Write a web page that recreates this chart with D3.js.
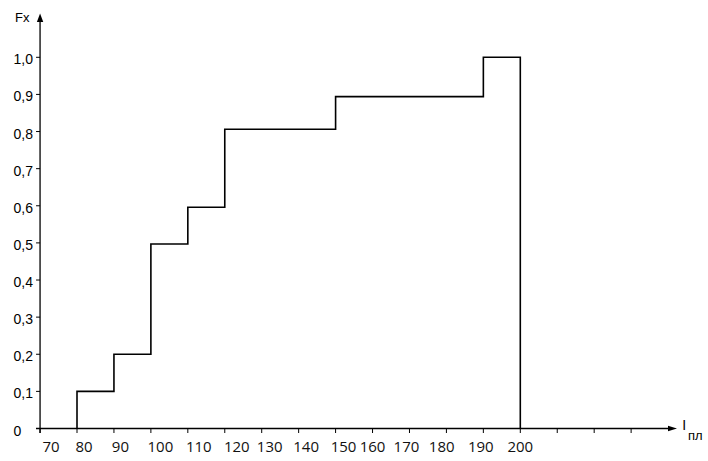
<!DOCTYPE html>
<html>
<head>
<meta charset="utf-8">
<script src="https://cdn.jsdelivr.net/npm/d3@7"></script>
<style>
  html, body { margin: 0; padding: 0; background: #fff; }
  svg { display: block; }
</style>
</head>
<body>
<svg id="chart" width="708" height="461"></svg>
<script>
// ---- data ----
const xBreaks = [80, 90, 100, 110, 120, 150, 190, 200];      // interval bounds
const fValues = [0.1, 0.2, 0.497, 0.596, 0.806, 0.894, 1.0];  // F(x) on each interval
const xTickValues = [70, 80, 90, 100, 110, 120, 130, 140, 150, 160, 170, 180, 190, 200, 210, 220, 230];
const xTickLabels = ["70", "80", "90", "100", "110", "120", "130", "140", "150", "160", "170", "180", "190", "200"];
const yTickValues = [0, 0.1, 0.2, 0.3, 0.4, 0.5, 0.6, 0.7, 0.8, 0.9, 1.0];
const yTickLabels = ["0", "0,1", "0,2", "0,3", "0,4", "0,5", "0,6", "0,7", "0,8", "0,9", "1,0"];
const yAxisTitle = "Fx";
const xAxisTitle = "I";
const xAxisSub = "пл";

// label nudges (layout only)
const xLabelNudge = [11, 7, 6.5, 9.5, 11, 12, 8, 7.5, 8, 0, -3, -4.7, -2.6, 0];

const svg = d3.select("#chart");
const x = d3.scaleLinear().domain([70, 200]).range([40.06, 520.3]);
const y = d3.scaleLinear().domain([0, 1]).range([428.5, 57.3]);

const black = "#000";

// y axis line
svg.append("line").attr("x1", x(70)).attr("x2", x(70))
  .attr("y1", 20).attr("y2", 433).attr("stroke", black).attr("stroke-width", 1.3);
svg.append("path")
  .attr("d", `M${x(70)},13.5 L${x(70) - 3.2},22 L${x(70) + 3.2},22 Z`).attr("fill", black);

// x axis line
svg.append("line").attr("x1", 36).attr("x2", 670)
  .attr("y1", y(0)).attr("y2", y(0)).attr("stroke", black).attr("stroke-width", 1.3);
svg.append("path")
  .attr("d", `M677,${y(0)} L668,${y(0) - 2.8} L668,${y(0) + 2.8} Z`).attr("fill", black);

// y ticks
svg.append("g").selectAll("line").data(yTickValues).join("line")
  .attr("x1", x(70) - 4).attr("x2", x(70))
  .attr("y1", d => y(d)).attr("y2", d => y(d))
  .attr("stroke", black).attr("stroke-width", 1);
svg.append("g").selectAll("text").data(yTickValues).join("text")
  .attr("x", 13.5).attr("y", d => y(d) + 7)
  .attr("font-family", "Liberation Sans, Arial, sans-serif").attr("font-size", 14)
  .attr("fill", black)
  .text((d, i) => yTickLabels[i]);

// x ticks
svg.append("g").selectAll("line").data(xTickValues).join("line")
  .attr("x1", d => x(d)).attr("x2", d => x(d))
  .attr("y1", y(0)).attr("y2", y(0) + 4.5)
  .attr("stroke", black).attr("stroke-width", 1);
svg.append("g").selectAll("text").data(xTickLabels).join("text")
  .attr("x", (d, i) => x(+d) + xLabelNudge[i]).attr("y", 452)
  .attr("text-anchor", "middle")
  .attr("font-family", "Open Sans, sans-serif").attr("font-size", 15)
  .attr("fill", "#111")
  .text(d => d);

// axis titles
svg.append("text").attr("x", 15).attr("y", 21.7)
  .attr("font-family", "Liberation Sans, Arial, sans-serif").attr("font-size", 13)
  .attr("fill", black).text(yAxisTitle);
svg.append("text").attr("x", 682.3).attr("y", 430)
  .attr("font-family", "Liberation Sans, Arial, sans-serif").attr("font-size", 14)
  .attr("fill", black).text(xAxisTitle);
svg.append("text").attr("x", 688).attr("y", 440)
  .attr("font-family", "Liberation Sans, Arial, sans-serif").attr("font-size", 13)
  .attr("fill", black).text(xAxisSub);

// step function
const pts = [[xBreaks[0], 0]];
fValues.forEach((v, i) => pts.push([xBreaks[i], v]));
pts.push([xBreaks[xBreaks.length - 1], fValues[fValues.length - 1]]);
pts.push([xBreaks[xBreaks.length - 1], 0]);

const line = d3.line().x(d => x(d[0])).y(d => y(d[1])).curve(d3.curveStepAfter);
svg.append("path").datum(pts).attr("d", line)
  .attr("fill", "none").attr("stroke", black).attr("stroke-width", 1.6);
</script>
</body>
</html>
